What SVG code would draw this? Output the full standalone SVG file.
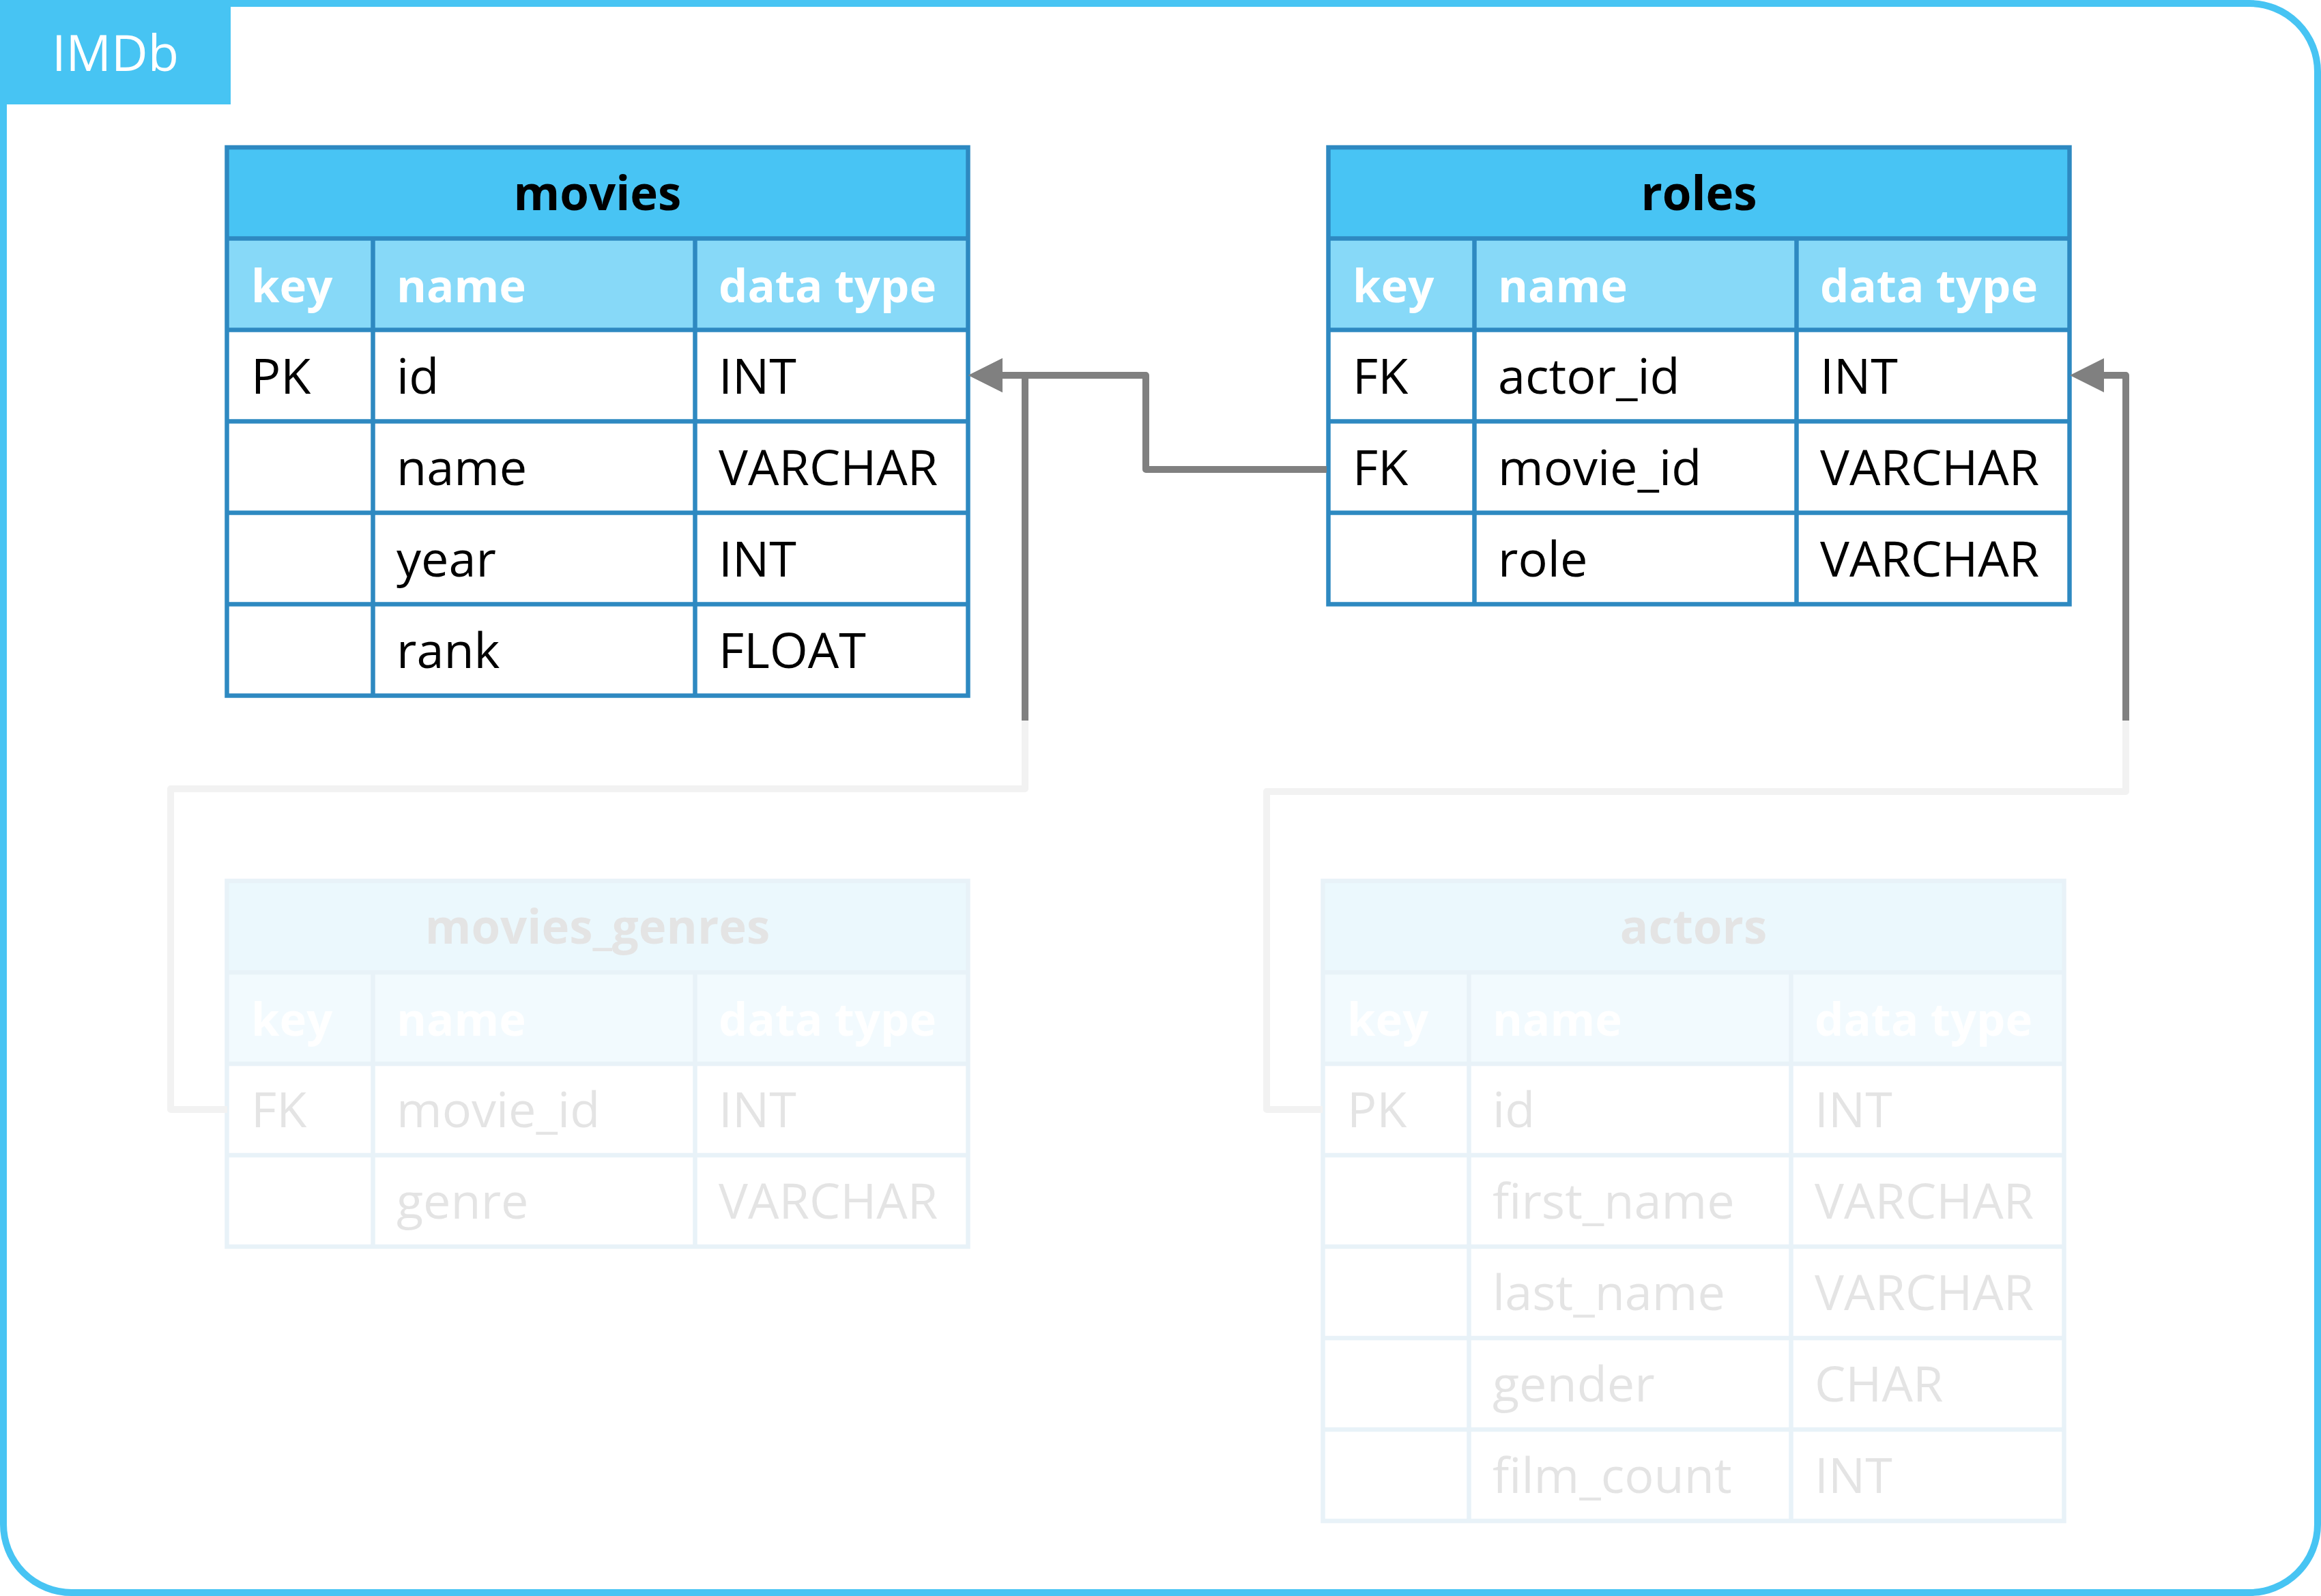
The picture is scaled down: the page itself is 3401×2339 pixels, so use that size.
<svg xmlns="http://www.w3.org/2000/svg" width="3401" height="2339" viewBox="0 0 3401 2339">
<style>
text{font-family:"Open Sans","Noto Sans","Liberation Sans",sans-serif;}
.ttl{font-size:69px;font-weight:700;fill:#000;text-anchor:middle;}
.hd{font-size:67px;font-weight:700;fill:#fff;}
.tx{font-size:72px;fill:#000;}
.tfill{fill:#48C4F4;}
.hfill{fill:#87D9F8;}
.bfill{fill:#fff;}
.grid{stroke:#2E89C1;stroke-width:6.5;fill:none;}
.con{fill:none;stroke:#808080;stroke-width:10;stroke-linejoin:round;}
.conf{fill:none;stroke:#F2F2F2;stroke-width:10;stroke-linejoin:round;}
.faded{opacity:0.1;}
</style>
<defs>
<marker id="arr" markerUnits="userSpaceOnUse" markerWidth="60" markerHeight="60" viewBox="0 -30 60 60" refX="0" refY="0" orient="auto">
<path d="M0,-25 L50,0 L0,25 Z" fill="#808080"/>
</marker>
</defs>
<rect x="0" y="0" width="3401" height="2339" fill="#fff"/>
<g id="frame">
<rect x="5" y="5" width="3391" height="2329" rx="100" ry="100" fill="#fff" stroke="#47C4F3" stroke-width="10"/>
<rect x="0" y="0" width="338" height="153" fill="#47C4F3"/>
<text x="169" y="104" style="font-size:74px;fill:#fff;text-anchor:middle;">IMDb</text>
</g>

<g id="movies">
<rect class="tfill" x="332.5" y="216" width="1086" height="133.5"/>
<rect class="hfill" x="332.5" y="349.5" width="1086" height="134"/>
<rect class="bfill" x="332.5" y="483.5" width="1086" height="536"/>
<path class="grid" d="M332.5,349.5H1418.5M332.5,483.5H1418.5M332.5,617.5H1418.5M332.5,751.5H1418.5M332.5,885.5H1418.5M546.5,349.5V1019.5M1018.5,349.5V1019.5"/>
<rect class="grid" x="332.5" y="216" width="1086" height="803.5"/>
<text class="ttl" x="875.5" y="308">movies</text>
<text class="hd" x="368" y="442.5">key</text>
<text class="hd" x="581" y="442.5">name</text>
<text class="hd" x="1053" y="442.5">data type</text>
<text class="tx" x="368" y="576.5">PK</text>
<text class="tx" x="581" y="576.5">id</text>
<text class="tx" x="1053" y="576.5">INT</text>
<text class="tx" x="581" y="710.5">name</text>
<text class="tx" x="1053" y="710.5">VARCHAR</text>
<text class="tx" x="581" y="844.5">year</text>
<text class="tx" x="1053" y="844.5">INT</text>
<text class="tx" x="581" y="978.5">rank</text>
<text class="tx" x="1053" y="978.5">FLOAT</text>
</g>

<g id="roles">
<rect class="tfill" x="1946.5" y="216" width="1086" height="133.5"/>
<rect class="hfill" x="1946.5" y="349.5" width="1086" height="134"/>
<rect class="bfill" x="1946.5" y="483.5" width="1086" height="402"/>
<path class="grid" d="M1946.5,349.5H3032.5M1946.5,483.5H3032.5M1946.5,617.5H3032.5M1946.5,751.5H3032.5M2160.5,349.5V885.5M2632.5,349.5V885.5"/>
<rect class="grid" x="1946.5" y="216" width="1086" height="669.5"/>
<text class="ttl" x="2489.5" y="308">roles</text>
<text class="hd" x="1982" y="442.5">key</text>
<text class="hd" x="2195" y="442.5">name</text>
<text class="hd" x="2667" y="442.5">data type</text>
<text class="tx" x="1982" y="576.5">FK</text>
<text class="tx" x="2195" y="576.5">actor_id</text>
<text class="tx" x="2667" y="576.5">INT</text>
<text class="tx" x="1982" y="710.5">FK</text>
<text class="tx" x="2195" y="710.5">movie_id</text>
<text class="tx" x="2667" y="710.5">VARCHAR</text>
<text class="tx" x="2195" y="844.5">role</text>
<text class="tx" x="2667" y="844.5">VARCHAR</text>
</g>

<g id="movies_genres" class="faded">
<rect class="tfill" x="332.5" y="1291" width="1086" height="134"/>
<rect class="hfill" x="332.5" y="1425" width="1086" height="134"/>
<rect class="bfill" x="332.5" y="1559" width="1086" height="268"/>
<path class="grid" d="M332.5,1425H1418.5M332.5,1559H1418.5M332.5,1693H1418.5M546.5,1425V1827M1018.5,1425V1827"/>
<rect class="grid" x="332.5" y="1291" width="1086" height="536"/>
<text class="ttl" x="875.5" y="1383">movies_genres</text>
<text class="hd" x="368" y="1518">key</text>
<text class="hd" x="581" y="1518">name</text>
<text class="hd" x="1053" y="1518">data type</text>
<text class="tx" x="368" y="1652">FK</text>
<text class="tx" x="581" y="1652">movie_id</text>
<text class="tx" x="1053" y="1652">INT</text>
<text class="tx" x="581" y="1786">genre</text>
<text class="tx" x="1053" y="1786">VARCHAR</text>
</g>

<g id="actors" class="faded">
<rect class="tfill" x="1938.5" y="1291" width="1086" height="134"/>
<rect class="hfill" x="1938.5" y="1425" width="1086" height="134"/>
<rect class="bfill" x="1938.5" y="1559" width="1086" height="670"/>
<path class="grid" d="M1938.5,1425H3024.5M1938.5,1559H3024.5M1938.5,1693H3024.5M1938.5,1827H3024.5M1938.5,1961H3024.5M1938.5,2095H3024.5M2152.5,1425V2229M2624.5,1425V2229"/>
<rect class="grid" x="1938.5" y="1291" width="1086" height="938"/>
<text class="ttl" x="2481.5" y="1383">actors</text>
<text class="hd" x="1974" y="1518">key</text>
<text class="hd" x="2187" y="1518">name</text>
<text class="hd" x="2659" y="1518">data type</text>
<text class="tx" x="1974" y="1652">PK</text>
<text class="tx" x="2187" y="1652">id</text>
<text class="tx" x="2659" y="1652">INT</text>
<text class="tx" x="2187" y="1786">first_name</text>
<text class="tx" x="2659" y="1786">VARCHAR</text>
<text class="tx" x="2187" y="1920">last_name</text>
<text class="tx" x="2659" y="1920">VARCHAR</text>
<text class="tx" x="2187" y="2054">gender</text>
<text class="tx" x="2659" y="2054">CHAR</text>
<text class="tx" x="2187" y="2188">film_count</text>
<text class="tx" x="2659" y="2188">INT</text>
</g>

<g id="connectors">
<path class="conf" d="M333,1626H250V1156H1502V1056"/>
<path class="con" d="M1502,1056V550H1469" marker-end="url(#arr)"/>
<path class="con" d="M1944,688H1679V550H1469" marker-end="url(#arr)"/>
<path class="conf" d="M1938,1626H1856V1160H3115V1056"/>
<path class="con" d="M3115,1056V550H3083" marker-end="url(#arr)"/>
</g>
</svg>
